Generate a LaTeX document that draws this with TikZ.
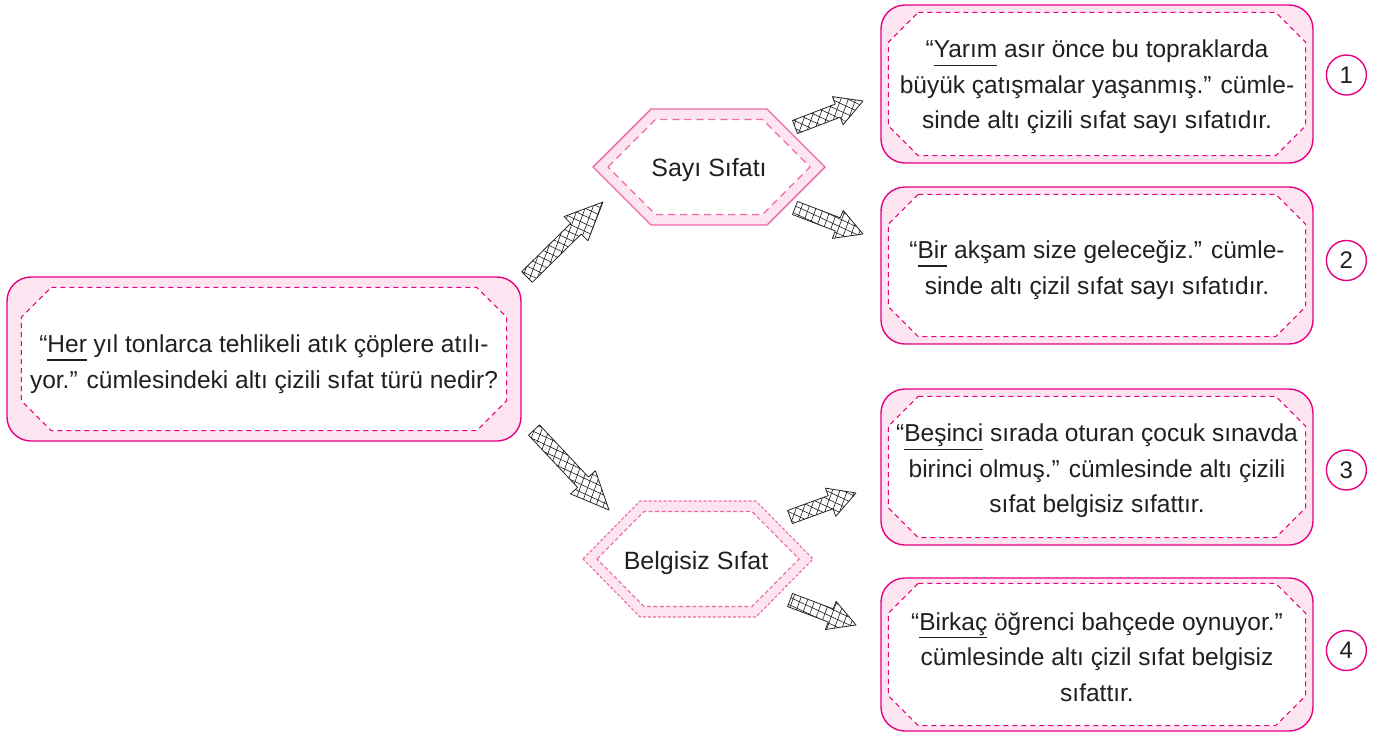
\documentclass[tikz,border=0pt]{standalone}
\usepackage{fontspec}
\setmainfont{Liberation Sans}
\usepackage{tikz}
\usetikzlibrary{positioning,calc,patterns.meta}
\definecolor{boxLine}{RGB}{231,0,127}
\definecolor{boxFill}{RGB}{252,228,240}
\definecolor{hexLine}{RGB}{241,104,166}
\definecolor{textColor}{RGB}{35,31,32}
\tikzstyle{outerBox} = [draw=boxLine, fill=boxFill, line width=1.4pt, rounded corners=24pt, inner sep=0pt]
\tikzstyle{innerFrameStyle} = [draw=boxLine, fill=white, line width=1pt, dash pattern=on 5pt off 4pt]
\tikzstyle{hexOuter} = [draw=hexLine, fill=boxFill, line width=1.4pt]
\tikzstyle{hexOuterDashed} = [draw=hexLine, fill=boxFill, line width=1.1pt, dash pattern=on 3pt off 2pt]
\tikzstyle{hexInner} = [draw=hexLine, fill=white, line width=1.2pt, dash pattern=on 7pt off 5pt]
\tikzstyle{hexInnerFine} = [draw=hexLine, fill=white, line width=1.1pt, dash pattern=on 4pt off 2.5pt]
\tikzstyle{bodyText} = [font=\fontsize{24.5}{35.5}\selectfont, text=textColor, align=center, inner sep=0pt]
\tikzstyle{hexText} = [font=\fontsize{25}{30}\selectfont, text=textColor, inner sep=0pt]
\tikzstyle{numCircle} = [circle, draw=boxLine, line width=1.4pt, minimum size=40pt, inner sep=0pt, font=\fontsize{24}{28}\selectfont, text=textColor]
\tikzstyle{hatchArrowStyle} = [draw=black!85, line width=0.8pt, line join=round, preaction={pattern={Lines[angle=70,distance=7pt,line width=0.6pt]}, pattern color=black!90}, pattern={Lines[angle=-25,distance=7pt,line width=0.6pt]}, pattern color=black!90]
\newcommand{\ulword}[1]{\setbox0\hbox{#1}\rlap{\rule[-8pt]{\wd0}{1.2pt}}\box0{}}
\newcommand{\innerFrame}[3]{\filldraw[innerFrameStyle] ($(#1.north west)+(#2+30,#3)$) -- ($(#1.north east)+(-#2-30,#3)$) -- ($(#1.north east)+(-#2,#3+30)$) -- ($(#1.south east)+(-#2,-#3-30)$) -- ($(#1.south east)+(-#2-30,-#3)$) -- ($(#1.south west)+(#2+30,-#3)$) -- ($(#1.south west)+(#2,-#3-30)$) -- ($(#1.north west)+(#2,#3+30)$) -- cycle;}
\newcommand{\hexFrame}[5]{\filldraw[#5] ($(#1)+(-#2,0)$) -- ($(#1)+(-#4,-#3)$) -- ($(#1)+(#4,-#3)$) -- ($(#1)+(#2,0)$) -- ($(#1)+(#4,#3)$) -- ($(#1)+(-#4,#3)$) -- cycle;}
\newcommand{\hatchArrow}[5]{\path[hatchArrowStyle] ($(#1)!#3pt!90:(#2)$) -- ($(#2)!#5pt!(#1)!#3pt!-90:(#1)$) -- ($(#2)!#5pt!(#1)!#4pt!-90:(#1)$) -- (#2) -- ($(#2)!#5pt!(#1)!#4pt!90:(#1)$) -- ($(#2)!#5pt!(#1)!#3pt!90:(#1)$) -- ($(#1)!#3pt!-90:(#2)$) -- cycle;}

\begin{document}
\begin{tikzpicture}[x=1pt, y=-1pt]
  \useasboundingbox (0,0) rectangle (1384,731);

  \node[outerBox, minimum width=514pt, minimum height=164pt] (question) at (264,359) {};
  \innerFrame{question}{15}{11}
  \node[bodyText] (questionText) at (264,364) {“\ulword{Her} yıl tonlarca tehlikeli atık çöplere atılı-\\yor.” cümlesindeki altı çizili sıfat türü nedir?};

  \coordinate (sayi) at (709,167);
  \hexFrame{sayi}{116}{58}{58}{hexOuter}
  \hexFrame{sayi}{101}{47.5}{53.5}{hexInner}
  \node[hexText] (sayiText) at (709,170) {Sayı Sıfatı};

  \coordinate (belgisiz) at (698,559);
  \hexFrame{belgisiz}{115}{58}{58}{hexOuterDashed}
  \hexFrame{belgisiz}{101}{47.5}{54}{hexInnerFine}
  \node[hexText] (belgisizText) at (696,563) {Belgisiz Sıfat};

  \node[outerBox, minimum width=432pt, minimum height=158pt] (answerA) at (1097,84) {};
  \innerFrame{answerA}{8}{8}
  \node[bodyText] (answerAText) at (1097,87) {“\ulword{Yarım} asır önce bu topraklarda\\büyük çatışmalar yaşanmış.” cümle-\\sinde altı çizili sıfat sayı sıfatıdır.};
  \node[numCircle, right=12pt of answerA, yshift=9pt] (numA) {1};

  \node[outerBox, minimum width=432pt, minimum height=157pt] (answerB) at (1097,265.5) {};
  \innerFrame{answerB}{8}{8}
  \node[bodyText] (answerBText) at (1097,270) {“\ulword{Bir} akşam size geleceğiz.” cümle-\\sinde altı çizil sıfat sayı sıfatıdır.};
  \node[numCircle, right=12pt of answerB, yshift=5pt] (numB) {2};

  \node[outerBox, minimum width=432pt, minimum height=156pt] (answerC) at (1097,467) {};
  \innerFrame{answerC}{8}{8}
  \node[bodyText] (answerCText) at (1097,471) {“\ulword{Beşinci} sırada oturan çocuk sınavda\\birinci olmuş.” cümlesinde altı çizili\\sıfat belgisiz sıfattır.};
  \node[numCircle, right=12pt of answerC, yshift=-3pt] (numC) {3};

  \node[outerBox, minimum width=432pt, minimum height=153pt] (answerD) at (1097,654.5) {};
  \innerFrame{answerD}{8}{6}
  \node[bodyText] (answerDText) at (1097,657) {“\ulword{Birkaç} öğrenci bahçede oynuyor.”\\cümlesinde altı çizil sıfat belgisiz\\sıfattır.};
  \node[numCircle, right=12pt of answerD, yshift=4pt] (numD) {4};

  \coordinate (questionUp) at (527,277);
  \coordinate (sayiIn) at (603,202);
  \coordinate (questionDown) at (534,430);
  \coordinate (belgisizIn) at (609,510);
  \coordinate (sayiOutA) at (795,127);
  \coordinate (answerAIn) at (863,101);
  \coordinate (sayiOutB) at (795,208);
  \coordinate (answerBIn) at (863,234);
  \coordinate (belgisizOutC) at (790,517);
  \coordinate (answerCIn) at (856,493);
  \coordinate (belgisizOutD) at (790,600);
  \coordinate (answerDIn) at (856,625);
  \hatchArrow{questionUp}{sayiIn}{7.5}{17}{38}
  \hatchArrow{questionDown}{belgisizIn}{7.5}{17}{38}
  \hatchArrow{sayiOutA}{answerAIn}{7}{15}{27}
  \hatchArrow{sayiOutB}{answerBIn}{7}{15}{27}
  \hatchArrow{belgisizOutC}{answerCIn}{7}{15}{27}
  \hatchArrow{belgisizOutD}{answerDIn}{7}{15}{27}
\end{tikzpicture}
\end{document}
